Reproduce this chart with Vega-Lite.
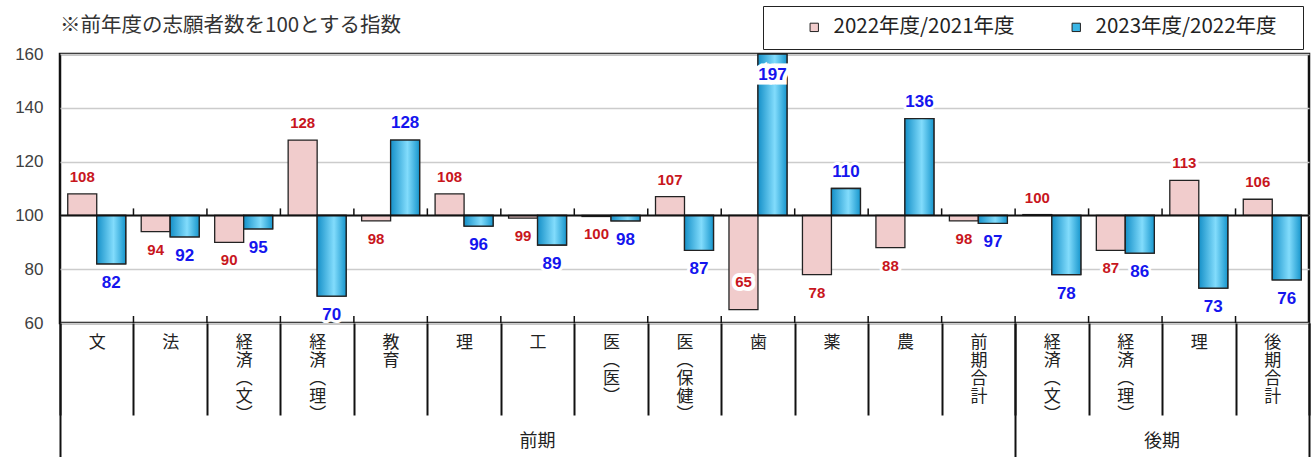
{
  "$schema": "https://vega.github.io/schema/vega-lite/v6.json",
  "autosize": {"type": "pad"},
  "padding": {"left": 13, "top": 5, "right": 0, "bottom": 0},
  "background": "white",
  "spacing": 0,
  "bounds": "flush",
  "datasets": {
    "d": [
      {"k": "01文", "g": "前期", "i": 0, "s": "2022年度/2021年度", "v": 108},
      {"k": "01文", "g": "前期", "i": 0, "s": "2023年度/2022年度", "v": 82},
      {"k": "02法", "g": "前期", "i": 1, "s": "2022年度/2021年度", "v": 94},
      {"k": "02法", "g": "前期", "i": 1, "s": "2023年度/2022年度", "v": 92},
      {"k": "03経済︵文︶", "g": "前期", "i": 2, "s": "2022年度/2021年度", "v": 90},
      {"k": "03経済︵文︶", "g": "前期", "i": 2, "s": "2023年度/2022年度", "v": 95},
      {"k": "04経済︵理︶", "g": "前期", "i": 3, "s": "2022年度/2021年度", "v": 128},
      {"k": "04経済︵理︶", "g": "前期", "i": 3, "s": "2023年度/2022年度", "v": 70},
      {"k": "05教育", "g": "前期", "i": 4, "s": "2022年度/2021年度", "v": 98},
      {"k": "05教育", "g": "前期", "i": 4, "s": "2023年度/2022年度", "v": 128},
      {"k": "06理", "g": "前期", "i": 5, "s": "2022年度/2021年度", "v": 108},
      {"k": "06理", "g": "前期", "i": 5, "s": "2023年度/2022年度", "v": 96},
      {"k": "07工", "g": "前期", "i": 6, "s": "2022年度/2021年度", "v": 99},
      {"k": "07工", "g": "前期", "i": 6, "s": "2023年度/2022年度", "v": 89},
      {"k": "08医︵医︶", "g": "前期", "i": 7, "s": "2022年度/2021年度", "v": 99.6},
      {"k": "08医︵医︶", "g": "前期", "i": 7, "s": "2023年度/2022年度", "v": 98},
      {"k": "09医︵保健︶", "g": "前期", "i": 8, "s": "2022年度/2021年度", "v": 107},
      {"k": "09医︵保健︶", "g": "前期", "i": 8, "s": "2023年度/2022年度", "v": 87},
      {"k": "10歯", "g": "前期", "i": 9, "s": "2022年度/2021年度", "v": 65},
      {"k": "10歯", "g": "前期", "i": 9, "s": "2023年度/2022年度", "v": 197},
      {"k": "11薬", "g": "前期", "i": 10, "s": "2022年度/2021年度", "v": 78},
      {"k": "11薬", "g": "前期", "i": 10, "s": "2023年度/2022年度", "v": 110},
      {"k": "12農", "g": "前期", "i": 11, "s": "2022年度/2021年度", "v": 88},
      {"k": "12農", "g": "前期", "i": 11, "s": "2023年度/2022年度", "v": 136},
      {"k": "13前期合計", "g": "前期", "i": 12, "s": "2022年度/2021年度", "v": 98},
      {"k": "13前期合計", "g": "前期", "i": 12, "s": "2023年度/2022年度", "v": 97},
      {"k": "14経済︵文︶", "g": "後期", "i": 13, "s": "2022年度/2021年度", "v": 100.3},
      {"k": "14経済︵文︶", "g": "後期", "i": 13, "s": "2023年度/2022年度", "v": 78},
      {"k": "15経済︵理︶", "g": "後期", "i": 14, "s": "2022年度/2021年度", "v": 87},
      {"k": "15経済︵理︶", "g": "後期", "i": 14, "s": "2023年度/2022年度", "v": 86},
      {"k": "16理", "g": "後期", "i": 15, "s": "2022年度/2021年度", "v": 113},
      {"k": "16理", "g": "後期", "i": 15, "s": "2023年度/2022年度", "v": 73},
      {"k": "17後期合計", "g": "後期", "i": 16, "s": "2022年度/2021年度", "v": 106},
      {"k": "17後期合計", "g": "後期", "i": 16, "s": "2023年度/2022年度", "v": 76}
    ]
  },
  "vconcat": [
    {
      "width": 1249,
      "height": 269,
      "data": {"name": "d"},
      "view": {"stroke": "#111111", "strokeWidth": 2.5},
      "title": {
        "text": "※前年度の志願者数を100とする指数",
        "anchor": "start",
        "frame": "group",
        "fontSize": 20.5,
        "font": "Noto Sans CJK JP",
        "fontWeight": "normal",
        "color": "#333333",
        "offset": 9
      },
      "layer": [
        {
          "mark": {"type": "bar", "stroke": "#222222", "strokeWidth": 1.3},
          "encoding": {
            "x": {
              "field": "k",
              "type": "nominal",
              "scale": {"paddingInner": 0, "paddingOuter": 0},
              "axis": {
                "title": null,
                "tickBand": "extent",
                "tickSize": 92,
                "tickWidth": 2,
                "tickColor": "#111111",
                "domain": false,
                "grid": false,
                "labelPadding": -81,
                "labelAngle": 0,
                "labelAlign": "center",
                "labelBaseline": "top",
                "labelOverlap": false,
                "labelExpr": "split(slice(datum.label, 2), '')",
                "labelLineHeight": 18,
                "labelFontSize": 17,
                "labelFont": "Noto Sans CJK JP",
                "labelColor": "#222222"
              }
            },
            "xOffset": {"field": "s", "type": "nominal", "scale": {"paddingInner": 0, "paddingOuter": 0.267}},
            "y": {
              "field": "v",
              "type": "quantitative",
              "scale": {"domain": [60, 160], "clamp": true, "nice": false, "zero": false},
              "axis": {
                "title": null,
                "values": [60, 80, 100, 120, 140, 160],
                "grid": true,
                "gridColor": "#cccccc",
                "gridWidth": 1.5,
                "domain": false,
                "ticks": false,
                "labelFontSize": 17,
                "labelFont": "Liberation Sans",
                "labelColor": "#404040",
                "labelPadding": 17
              }
            },
            "y2": {"datum": 100},
            "fill": {
              "field": "s",
              "type": "nominal",
              "scale": {"range": ["#f1cccc", "#3ab6e6"]},
              "legend": {
                "title": "　",
                "titleOrient": "left",
                "titleFontSize": 20,
                "titlePadding": 30,
                "orient": "none",
                "legendX": 703,
                "legendY": -48,
                "direction": "horizontal",
                "padding": 11,
                "strokeColor": "#222222",
                "labelFontSize": 20.5,
                "labelFont": "Noto Sans CJK JP",
                "labelColor": "#222222",
                "labelLimit": 400,
                "labelExpr": "datum.label + '⠀'",
                "labelOffset": 9,
                "symbolType": "square",
                "symbolSize": 70,
                "symbolStrokeColor": "#222222",
                "symbolStrokeWidth": 1,
                "columnPadding": 36
              }
            }
          }
        },
        {
          "transform": [{"filter": "datum.s === '2023年度/2022年度'"}],
          "mark": {
            "type": "bar",
            "stroke": "#222222",
            "strokeWidth": 1.3,
            "fill": {
              "gradient": "linear",
              "x1": 0, "y1": 0, "x2": 1, "y2": 0,
              "stops": [
                {"offset": 0, "color": "#1590c8"},
                {"offset": 0.58, "color": "#82dcfc"},
                {"offset": 1, "color": "#1796cd"}
              ]
            }
          },
          "encoding": {
            "x": {"field": "k", "type": "nominal"},
            "xOffset": {"field": "s", "type": "nominal"},
            "y": {"field": "v", "type": "quantitative"},
            "y2": {"datum": 100}
          }
        },
        {
          "data": {"values": [{}]},
          "mark": {"type": "rule", "color": "#111111", "strokeWidth": 2},
          "encoding": {"y": {"datum": 100}}
        },
        {
          "transform": [{"filter": "datum.s === '2022年度/2021年度'"}],
          "mark": {"type": "rule", "color": "#111111", "strokeWidth": 1.5},
          "encoding": {
            "x": {"field": "k", "type": "nominal", "bandPosition": 0},
            "y": {"datum": 100},
            "y2": {"datum": 102.6}
          }
        },
        {
          "transform": [{"filter": "datum.s === '2022年度/2021年度'"}],
          "mark": {"type": "rule", "color": "#111111", "strokeWidth": 1.5},
          "encoding": {
            "x": {"field": "k", "type": "nominal", "bandPosition": 0},
            "y": {"datum": 60},
            "y2": {"datum": 62.6}
          }
        },
        {
          "transform": [{"filter": "datum.v >= 100 && datum.v <= 160"}],
          "encoding": {
            "x": {"field": "k", "type": "nominal"},
            "xOffset": {"field": "s", "type": "nominal"},
            "y": {"field": "v", "type": "quantitative"},
            "text": {"field": "v", "type": "quantitative", "format": ".0f"},
            "size": {"condition": {"test": "datum.s === '2022年度/2021年度'", "value": 15}, "value": 17}
          },
          "layer": [
            {"mark": {"type": "text", "baseline": "alphabetic", "dy": -12, "font": "Liberation Sans", "fontWeight": "bold", "fill": "white", "stroke": "white", "strokeWidth": 6, "strokeJoin": "round"}},
            {"mark": {"type": "text", "baseline": "alphabetic", "dy": -12, "font": "Liberation Sans", "fontWeight": "bold"},
             "encoding": {"color": {"condition": {"test": "datum.s === '2022年度/2021年度'", "value": "#c8161d"}, "value": "#1515ee"}}}
          ]
        },
        {
          "transform": [{"filter": "datum.v < 100 && datum.v >= 70"}],
          "encoding": {
            "x": {"field": "k", "type": "nominal"},
            "xOffset": {"field": "s", "type": "nominal"},
            "y": {"field": "v", "type": "quantitative"},
            "text": {"field": "v", "type": "quantitative", "format": ".0f"},
            "size": {"condition": {"test": "datum.s === '2022年度/2021年度'", "value": 15}, "value": 17}
          },
          "layer": [
            {"mark": {"type": "text", "baseline": "top", "dy": 11, "font": "Liberation Sans", "fontWeight": "bold", "fill": "white", "stroke": "white", "strokeWidth": 6, "strokeJoin": "round"}},
            {"mark": {"type": "text", "baseline": "top", "dy": 11, "font": "Liberation Sans", "fontWeight": "bold"},
             "encoding": {"color": {"condition": {"test": "datum.s === '2022年度/2021年度'", "value": "#c8161d"}, "value": "#1515ee"}}}
          ]
        },
        {
          "transform": [{"filter": "datum.v < 70"}],
          "encoding": {
            "x": {"field": "k", "type": "nominal"},
            "xOffset": {"field": "s", "type": "nominal"},
            "y": {"field": "v", "type": "quantitative"},
            "text": {"field": "v", "type": "quantitative", "format": ".0f"},
            "size": {"condition": {"test": "datum.s === '2022年度/2021年度'", "value": 15}, "value": 17}
          },
          "layer": [
            {"mark": {"type": "text", "baseline": "alphabetic", "dy": -23, "font": "Liberation Sans", "fontWeight": "bold", "fill": "white", "stroke": "white", "strokeWidth": 8, "strokeJoin": "round"}},
            {"mark": {"type": "text", "baseline": "alphabetic", "dy": -23, "font": "Liberation Sans", "fontWeight": "bold"},
             "encoding": {"color": {"condition": {"test": "datum.s === '2022年度/2021年度'", "value": "#c8161d"}, "value": "#1515ee"}}}
          ]
        },
        {
          "transform": [{"filter": "datum.v > 160"}],
          "encoding": {
            "x": {"field": "k", "type": "nominal"},
            "xOffset": {"field": "s", "type": "nominal"},
            "y": {"field": "v", "type": "quantitative"},
            "text": {"field": "v", "type": "quantitative", "format": ".0f"},
            "size": {"condition": {"test": "datum.s === '2022年度/2021年度'", "value": 15}, "value": 17}
          },
          "layer": [
            {"mark": {"type": "text", "baseline": "top", "dy": 13, "font": "Liberation Sans", "fontWeight": "bold", "fill": "white", "stroke": "white", "strokeWidth": 9, "strokeJoin": "miter"}},
            {"mark": {"type": "text", "baseline": "top", "dy": 13, "font": "Liberation Sans", "fontWeight": "bold"},
             "encoding": {"color": {"condition": {"test": "datum.s === '2022年度/2021年度'", "value": "#c8161d"}, "value": "#1515ee"}}}
          ]
        }
      ]
    },
    {
      "width": 1249,
      "height": 135,
      "data": {"name": "d"},
      "view": {"stroke": null},
      "mark": {"type": "text", "dy": 51, "fontSize": 18, "font": "Noto Sans CJK JP", "color": "#222222"},
      "encoding": {
        "x": {
          "aggregate": "mean",
          "field": "i",
          "type": "quantitative",
          "scale": {"domain": [-0.5, 16.5], "nice": false, "zero": false},
          "axis": {
            "title": null,
            "values": [-0.5, 12.5, 16.5],
            "grid": true,
            "gridColor": "#111111",
            "gridWidth": 2,
            "labels": false,
            "ticks": false,
            "domain": false
          }
        },
        "text": {"field": "g", "type": "nominal"}
      }
    }
  ]
}
